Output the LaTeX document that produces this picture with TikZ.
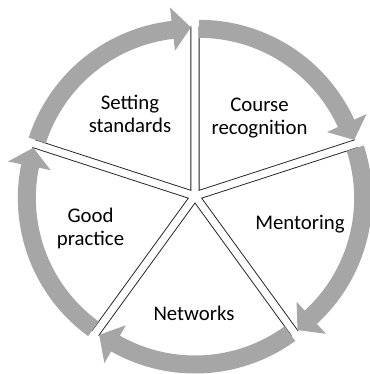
\documentclass[tikz,border=0pt]{standalone}
\usepackage{fontspec}
\setmainfont{Carlito}
\usetikzlibrary{calc}
\definecolor{ringgrey}{RGB}{166,166,166}
\begin{document}
\begin{tikzpicture}[x=1pt,y=1pt,
  edge/.style={draw=black!85,line width=0.8pt},
  ringarrow/.style={fill=ringgrey,draw=none},
  lbl/.style={font=\fontsize{20.8}{23}\selectfont,align=center,text=black,inner sep=0pt,anchor=base}]
\fill[white] (0,0) rectangle (369,374);
\useasboundingbox (0,0) rectangle (369,374);
\coordinate (C) at (195,178);
\foreach \lo/\nm in {90/cr,18/me,-54/ne,-126/gp,162/ss}{
  \pgfmathsetmacro{\hi}{\lo+72}
  \pgfmathsetmacro{\md}{\lo+36}
  \pgfmathsetmacro{\hb}{\lo+6.5}
  \coordinate (S\nm) at ($(C)+(\md:7pt)$);
  \fill[white] (S\nm) -- ($(S\nm)+(\lo:163pt)$) arc[start angle=\lo, end angle=\hi, radius=163pt] -- cycle;
  \draw[edge] ($(S\nm)+(\hi:164pt)$) -- (S\nm) -- ($(S\nm)+(\lo:164pt)$);
  \fill[ringarrow] ($(S\nm)+(\hi:152.5pt)$) arc[start angle=\hi, end angle=\hb, radius=152.5pt]
    -- ($(S\nm)+(\hb:140.5pt)$) -- ($(S\nm)+(\lo:163pt)$) -- ($(S\nm)+(\hb:184pt)$)
    -- ($(S\nm)+(\hb:170.5pt)$) arc[start angle=\hb, end angle=\hi, radius=170.5pt] -- cycle;
}
\node[lbl] (tss) at (130,241) {Setting\\standards};
\node[lbl] (tcr) at (259.5,239) {Course\\recognition};
\node[lbl] (tme) at (300,144) {Mentoring};
\node[lbl] (tgp) at (90.5,128) {Good\\practice};
\node[lbl] (tne) at (194,53.3) {Networks};
\end{tikzpicture}
\end{document}
